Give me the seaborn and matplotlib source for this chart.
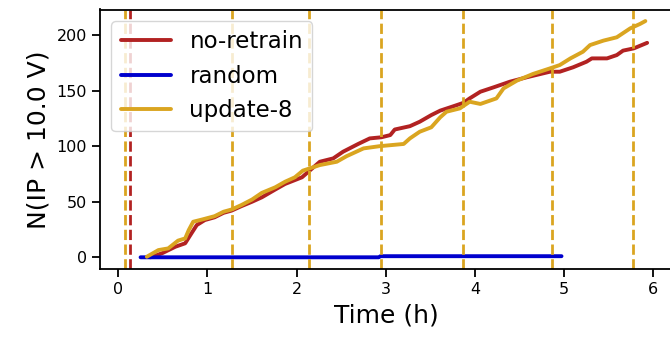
import pandas as pd
import seaborn as sns
import matplotlib
matplotlib.use('Agg')
import matplotlib.pyplot as plt

# no-retrain curve (time in h, count)
noRetrainT = [0.36, 0.49, 0.64, 0.75, 0.82, 0.88, 0.97, 1.08, 1.18, 1.27, 1.38, 1.50, 1.61,
              1.76, 1.87, 2.06, 2.26, 2.41, 2.52, 2.69, 2.82, 2.95, 3.05, 3.10, 3.27, 3.38,
              3.51, 3.61, 3.76, 3.87, 3.94, 4.06, 4.21, 4.39, 4.58, 4.84, 4.95, 5.10, 5.25,
              5.31, 5.48, 5.59, 5.66, 5.78, 5.93]
noRetrainN = [0, 3.6, 9.5, 12.6, 21.5, 29, 33.5, 36, 40, 42, 46, 50, 54,
              61, 66, 72, 86, 89, 95, 102, 107, 108, 110, 115, 118, 122,
              128, 132, 136, 139, 143, 149, 153, 158, 162, 167, 167, 171, 176,
              179, 179, 182, 186, 188, 193]

# random curve
randomT = [0.25, 2.92, 2.94, 4.97]
randomN = [0, 0, 1, 1]

# update-8 curve
updateT = [0.32, 0.45, 0.56, 0.67, 0.75, 0.79, 0.84, 0.94, 1.08, 1.18, 1.27, 1.38, 1.50,
           1.61, 1.76, 1.87, 1.98, 2.07, 2.26, 2.45, 2.56, 2.75, 2.93, 3.20, 3.27, 3.38,
           3.51, 3.61, 3.68, 3.83, 3.94, 4.06, 4.24, 4.32, 4.47, 4.65, 4.84, 4.95, 5.07,
           5.21, 5.29, 5.44, 5.59, 5.74, 5.85, 5.91]
updateN = [0.5, 6.5, 8, 15, 17, 24.5, 32, 34, 37, 41, 43, 47, 52,
           58, 63, 68, 72, 78, 83, 86, 91, 98, 100, 102, 107, 113,
           117, 126, 131, 134, 140, 138, 143, 152, 159, 165, 170, 173, 179,
           185, 191, 195, 198, 206, 210, 212.6]

# retraining times (vertical dashed lines)
noRetrainLines = [0.135]
updateLines = [0.08, 1.275, 2.14, 2.945, 3.87, 4.86, 5.77]

colors = {'no-retrain': '#b22222', 'random': '#0000cd', 'update-8': '#daa520'}

df = pd.concat([
    pd.DataFrame({'time': noRetrainT, 'n': noRetrainN, 'method': 'no-retrain'}),
    pd.DataFrame({'time': randomT, 'n': randomN, 'method': 'random'}),
    pd.DataFrame({'time': updateT, 'n': updateN, 'method': 'update-8'}),
])

sns.set_theme(style='ticks')
plt.rcParams['font.family'] = ['DejaVu Sans']
plt.rcParams['text.color'] = 'black'
plt.rcParams['axes.labelcolor'] = 'black'
plt.rcParams['xtick.color'] = 'black'
plt.rcParams['ytick.color'] = 'black'

fig = plt.figure(figsize=(6.7, 3.41), dpi=100)
ax = fig.add_axes([100 / 670, 1 - 269.3 / 341, 573 / 670, (269.3 - 9.5) / 341])

sns.lineplot(data=df, x='time', y='n', hue='method', palette=colors, linewidth=2.8,
             estimator=None, sort=False, ax=ax)

for t in noRetrainLines:
    ax.axvline(t, color=colors['no-retrain'], linestyle='--', linewidth=2)
for t in updateLines:
    ax.axvline(t, color=colors['update-8'], linestyle='--', linewidth=2)

ax.set_xlim(-0.205, 6.22)
ax.set_ylim(-10.8, 223)
ax.set_xticks([0, 1, 2, 3, 4, 5, 6])
ax.set_yticks([0, 50, 100, 150, 200])
ax.tick_params(labelsize=11.5, width=1.3, length=6)
for s in ax.spines.values():
    s.set_linewidth(1.3)
    s.set_color('black')

ax.set_xlabel('Time (h)', fontsize=18)
ax.set_ylabel('N(IP > 10.0 V)', fontsize=18)
ax.legend(loc='upper left', fontsize=16.5, handlelength=2.2, borderaxespad=0.5)

fig.savefig('out.png', dpi=100)
